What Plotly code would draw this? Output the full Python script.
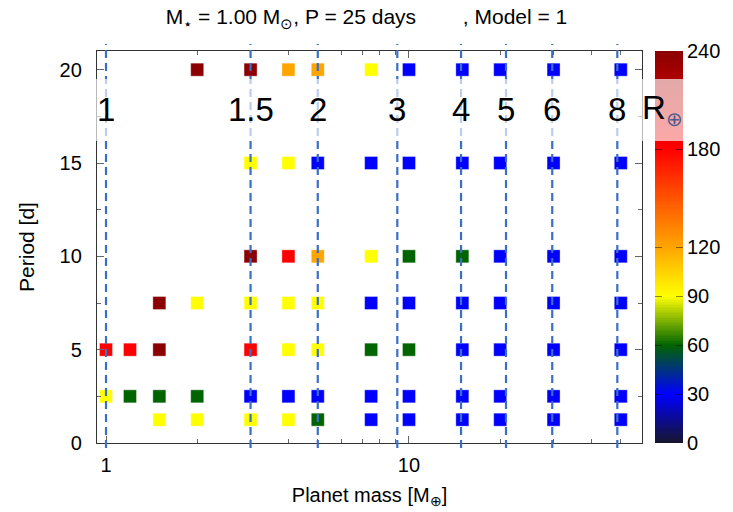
import numpy as np
import plotly.graph_objects as go

# ---- grid of simulated planets: one list of masses / values per orbital period ----
row_periods = [20, 15, 10, 7.5, 5, 2.5, 1.25]
row_masses = [
    [2, 3, 4, 5, 7.5, 10, 15, 20, 30, 50],
    [3, 4, 5, 7.5, 10, 15, 20, 30, 50],
    [3, 4, 5, 7.5, 10, 15, 20, 30, 50],
    [1.5, 2, 3, 4, 5, 7.5, 10, 15, 20, 30, 50],
    [1, 1.2, 1.5, 3, 4, 5, 7.5, 10, 15, 20, 30, 50],
    [1, 1.2, 1.5, 2, 3, 4, 5, 7.5, 10, 15, 20, 30, 50],
    [1.5, 2, 3, 4, 5, 7.5, 10, 15, 20, 30, 50],
]
row_values = [
    [240, 240, 120, 120, 90, 30, 30, 30, 30, 30],
    [90, 90, 30, 30, 30, 30, 30, 30, 30],
    [240, 180, 120, 90, 60, 60, 30, 30, 30],
    [240, 90, 90, 90, 90, 30, 30, 30, 30, 30, 30],
    [180, 180, 240, 180, 90, 90, 60, 60, 30, 30, 30, 30],
    [90, 60, 60, 60, 30, 30, 30, 30, 30, 30, 30, 30, 30],
    [90, 90, 90, 90, 60, 30, 30, 30, 30, 30, 30],
]

# planet radii (R_earth) and the corresponding masses (M_earth)
radius_labels = ["1", "1.5", "2", "3", "4", "5", "6", "8"]
radius_masses = [1.0, 3.0, 5.0, 9.15, 14.85, 20.9, 29.7, 48.7]

# colour bar
cb_min, cb_max = 0, 240
cb_ticks = [0, 30, 60, 90, 120, 180, 240]

x_major = [1, 10]
x_minor = [2, 3, 4, 5, 6, 7, 8, 9, 20, 30, 40, 50]
y_major = [0, 5, 10, 15, 20]
y_minor = [2.5, 7.5, 12.5, 17.5]

colorscale = [
    [0.0, "rgb(22,22,42)"],
    [0.125, "rgb(0,0,255)"],
    [0.25, "rgb(0,100,0)"],
    [0.375, "rgb(255,255,0)"],
    [0.5, "rgb(255,165,0)"],
    [0.75, "rgb(255,0,0)"],
    [1.0, "rgb(139,0,0)"],
]

FONT = "Liberation Sans, Arial, Helvetica, sans-serif"

xs, ys, cs = [], [], []
for p, ms, vs in zip(row_periods, row_masses, row_values):
    xs += ms
    ys += [p] * len(ms)
    cs += vs

fig = go.Figure()

fig.add_trace(go.Scatter(
    x=xs, y=ys, mode="markers",
    marker=dict(symbol="square", size=13, color=cs, colorscale=colorscale,
                cmin=cb_min, cmax=cb_max,
                line=dict(width=1, color="rgba(255,255,255,0.35)")),
    showlegend=False, hoverinfo="skip",
))

# colour ramp drawn as a narrow heatmap on its own axis pair
ramp = np.linspace(cb_min, cb_max, 241)
fig.add_trace(go.Heatmap(
    z=ramp.reshape(-1, 1), x=[0], y=ramp,
    colorscale=colorscale, zmin=cb_min, zmax=cb_max,
    showscale=False, xaxis="x2", yaxis="y2", hoverinfo="skip",
))

shapes = []
for m in radius_masses:
    shapes.append(dict(type="line", xref="x", yref="paper", x0=m, x1=m,
                       y0=-0.013, y1=1.018, layer="above",
                       line=dict(color="#3b6fc6", width=2.2, dash="8px,5px")))
# translucent band behind the radius labels
shapes.append(dict(type="rect", xref="paper", yref="paper", x0=-0.003, x1=1.1,
                   y0=0.7704, y1=0.9286, layer="above",
                   fillcolor="rgba(255,255,255,0.66)", line=dict(width=0)))

annotations = []
for lab, m in zip(radius_labels, radius_masses):
    annotations.append(dict(text=lab, x=np.log10(m), xref="x", y=0.852, yref="paper",
                            xanchor="center", yanchor="middle", showarrow=False,
                            font=dict(size=33, color="black", family=FONT)))
annotations.append(dict(
    text="R<sub><span style='color:#4b5b8f;font-size:20px'>\u2295</span></sub>",
    x=0.9266, xref="paper", y=0.852, yref="paper",
    xanchor="left", yanchor="middle", showarrow=False,
    font=dict(size=33, color="black", family=FONT)))

axis_common = dict(showline=True, linecolor="#333333", linewidth=1.3, mirror="ticks",
                   ticks="inside", ticklen=7, tickcolor="#666666", tickwidth=1,
                   showgrid=False, zeroline=False, automargin=False,
                   tickfont=dict(size=20, color="black", family=FONT))

fig.update_layout(
    width=733, height=512,
    margin=dict(l=97, r=50, t=51, b=69),
    paper_bgcolor="white", plot_bgcolor="white",
    font=dict(family=FONT, color="black"),
    title=dict(text="M<sub>\u22c6</sub> = 1.00 M<sub>\u2299</sub>, P = 25 days"
                    + "\u00a0" * 8 + ", Model = 1",
               x=0.5, xref="container", xanchor="center",
               y=1 - 17 / 512, yref="container", yanchor="middle",
               font=dict(size=21, family=FONT, color="black")),
    xaxis=dict(type="log", range=[-0.0297, 1.769], domain=[0, 0.93003],
               tickvals=x_major, ticktext=[str(v) for v in x_major],
               minor=dict(tickvals=x_minor, ticks="inside", ticklen=4,
                          tickcolor="#666666"),
               ticklabelstandoff=4,
               title=dict(text="Planet mass [M<sub>\u2295</sub>]", standoff=12,
                          font=dict(size=20, family=FONT)),
               **axis_common),
    yaxis=dict(range=[0, 21], tickvals=y_major,
               minor=dict(tickvals=y_minor, ticks="inside", ticklen=4,
                          tickcolor="#666666"),
               ticklabelstandoff=10,
               title=dict(text="Period [d]", standoff=19,
                          font=dict(size=21, family=FONT)),
               **axis_common),
    xaxis2=dict(domain=[0.95222, 1.0], anchor="y2", range=[-0.5, 0.5],
                visible=False, automargin=False),
    yaxis2=dict(domain=[0, 1], anchor="x2", side="right", range=[cb_min, cb_max],
                tickvals=cb_ticks, ticks="inside", ticklen=7,
                tickcolor="rgba(0,0,0,0.45)", showline=False, mirror="ticks",
                showgrid=False, zeroline=False, ticklabelstandoff=3,
                automargin=False,
                tickfont=dict(size=20, color="black", family=FONT)),
    shapes=shapes,
    annotations=annotations,
)

fig.write_html("out.html")
